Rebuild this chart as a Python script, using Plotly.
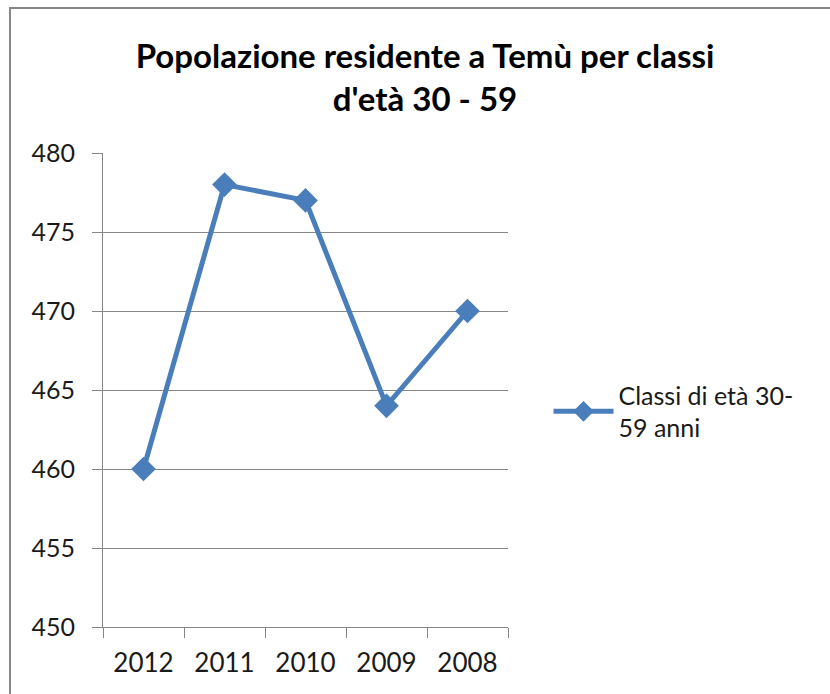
import plotly.graph_objects as go

years = ["2012", "2011", "2010", "2009", "2008"]
values = [460, 478, 477, 464, 470]
series_name = "Classi di età 30-<br>59 anni"
title_text = "<b>Popolazione residente a Temù per classi<br>d'età 30 - 59</b>"
y_ticks = [450, 455, 460, 465, 470, 475, 480]

FONT = "Lato, Open Sans, sans-serif"
GRID = "#868686"

W, H = 830, 694
L, T, PW, PH = 103, 153, 405, 474

fig = go.Figure()
fig.add_trace(go.Scatter(
    x=years, y=values, mode="lines+markers", name=series_name,
    line=dict(color="#4a7ebb", width=5),
    marker=dict(symbol="diamond", size=19, color="#4a7ebb"),
    showlegend=True,
))

fig.update_layout(
    width=W, height=H,
    margin=dict(l=L, r=W - L - PW, t=T, b=H - T - PH),
    paper_bgcolor="white", plot_bgcolor="white",
    font=dict(family=FONT, size=25, color="#1a1a1a"),
    title=dict(text=title_text, x=425 / W, xanchor="center", y=1 - 68 / H, yanchor="top",
               font=dict(family=FONT, size=33, color="black")),
    showlegend=True,
    legend=dict(x=1.1, xanchor="left", y=0.455, yanchor="middle",
                font=dict(family=FONT, size=25, color="#1a1a1a"),
                itemwidth=60, tracegroupgap=0),
    xaxis=dict(type="category", range=[-0.5, 4.5], showgrid=False,
               showline=True, linecolor=GRID, linewidth=1,
               ticks="outside", tickson="boundaries", ticklen=10, tickcolor=GRID,
               tickfont=dict(size=26), ticklabelstandoff=13),
    yaxis=dict(range=[450, 480], tickvals=y_ticks, showgrid=True, gridcolor=GRID,
               gridwidth=1, showline=True, linecolor=GRID, linewidth=1,
               ticks="outside", ticklen=10, tickcolor=GRID, zeroline=False,
               tickfont=dict(size=25), ticklabelstandoff=12),
    shapes=[dict(type="rect", xref="paper", yref="paper",
                 x0=(10 - L) / PW, x1=(900 - L) / PW,
                 y0=-0.3, y1=1 + (T - 8) / PH,
                 line=dict(color="#878787", width=2), layer="below")],
)

fig.write_html("out.html", config={"displayModeBar": False},
               post_script="document.body.style.margin='0';document.body.style.overflow='hidden';")
